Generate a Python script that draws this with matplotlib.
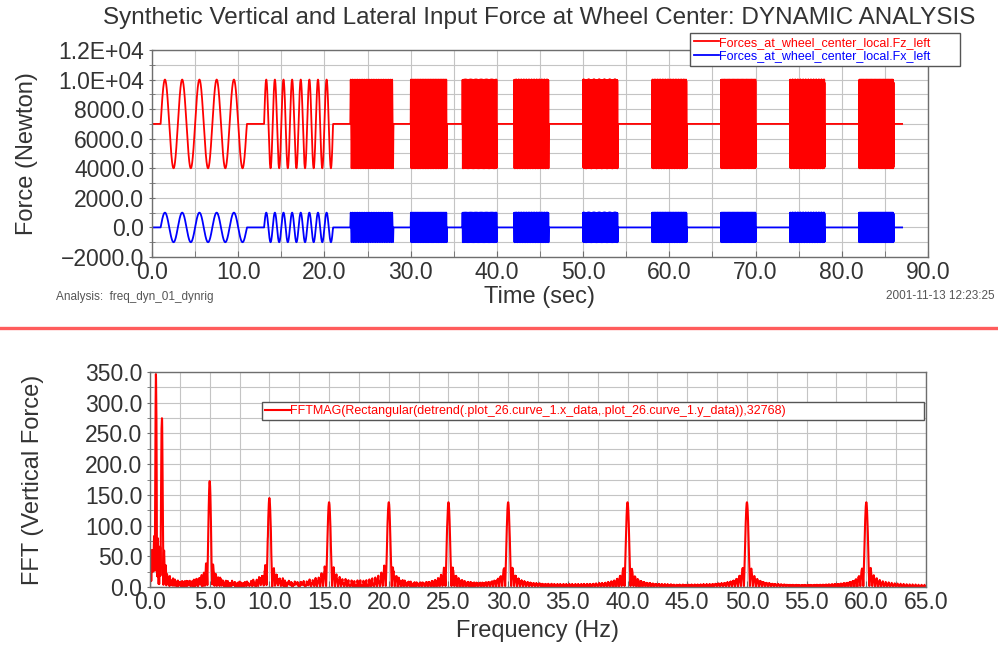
import numpy as np
import matplotlib
matplotlib.use("Agg")
import matplotlib.pyplot as plt
from matplotlib.lines import Line2D
from matplotlib.ticker import MultipleLocator, FixedLocator

# ---------------- data ----------------
# excitation segments (start, end in s; frequency in Hz)
seg_start = [1.0, 13.0, 23.0, 30.0, 36.0, 42.0, 50.0, 58.0, 66.0, 74.0, 82.0]
seg_end   = [11.0, 21.0, 28.0, 34.2, 40.0, 46.0, 54.0, 62.0, 70.0, 78.0, 86.0]
seg_freq  = [0.5, 1.0, 5.0, 10.0, 15.0, 20.0, 25.0, 30.0, 40.0, 50.0, 60.0]
t_total = 87.0
n_points = 32768
fz_mean, fz_amp = 7000.0, 3000.0   # Forces_at_wheel_center_local.Fz_left
fx_mean, fx_amp = 0.0, 1000.0      # Forces_at_wheel_center_local.Fx_left

top_yticks = [-2000, 0, 2000, 4000, 6000, 8000, 10000, 12000]
top_ylabels = ["\u22122000.0", "0.0", "2000.0", "4000.0", "6000.0", "8000.0", "1.0E+04", "1.2E+04"]
top_xticks = [0, 10, 20, 30, 40, 50, 60, 70, 80, 90]
bot_xticks = [0, 5, 10, 15, 20, 25, 30, 35, 40, 45, 50, 55, 60, 65]
bot_yticks = [0, 50, 100, 150, 200, 250, 300, 350]

title = "Synthetic Vertical and Lateral Input Force at Wheel Center: DYNAMIC ANALYSIS"
fz_label = "Forces_at_wheel_center_local.Fz_left"
fx_label = "Forces_at_wheel_center_local.Fx_left"
fft_label = "FFTMAG(Rectangular(detrend(.plot_26.curve_1.x_data,.plot_26.curve_1.y_data)),32768)"

# ---------------- signals ----------------
t = np.arange(n_points) * (t_total / n_points)
unit = np.zeros_like(t)
for s, e, f in zip(seg_start, seg_end, seg_freq):
    m = (t >= s) & (t <= e)
    unit[m] = np.sin(2 * np.pi * f * (t[m] - s))
fz = fz_mean + fz_amp * unit
fx = fx_mean + fx_amp * unit

# FFT magnitude of detrended vertical force
coef = np.polyfit(t, fz, 1)
det = fz - np.polyval(coef, t)
spec = 2.0 * np.abs(np.fft.rfft(det)) / n_points
freq = np.fft.rfftfreq(n_points, d=t_total / n_points)
keep = freq <= 65.0

# ---------------- figure ----------------
plt.rcParams['font.family'] = ['Liberation Sans', 'DejaVu Sans']
W, H = 998, 645
fig = plt.figure(figsize=(W / 100, H / 100), dpi=100)
fig.patch.set_facecolor('white')

def fx_(px):
    return px / W

def fy_(py):
    return 1 - py / H

txt_col = '#333333'
grid_col = '#c4c4c4'
spine_col = '#6e6e6e'
tick_fs = 16.5
lab_fs = 17

def style_axes(ax):
    for sp in ax.spines.values():
        sp.set_color(spine_col)
        sp.set_linewidth(1.0)
    ax.grid(True, which='both', color=grid_col, linewidth=0.8)
    ax.set_axisbelow(True)
    ax.tick_params(axis='x', which='both', direction='in', length=4, color=spine_col,
                   labelsize=tick_fs, labelcolor=txt_col, pad=3)
    ax.tick_params(axis='y', which='both', direction='inout', length=5, color=spine_col,
                   labelsize=tick_fs, labelcolor=txt_col, pad=3)

# top axes
ax1 = fig.add_axes([fx_(152), fy_(257), fx_(776), 207 / H])
ax1.plot(t, fz, color='#ff0000', linewidth=1.3, label=fz_label)
ax1.plot(t, fx, color='#0000ff', linewidth=1.3, label=fx_label)
ax1.set_xlim(0, 90)
ax1.set_ylim(-2000, 12000)
ax1.xaxis.set_major_locator(FixedLocator(top_xticks))
ax1.set_xticklabels([f"{v:.1f}" for v in top_xticks])
ax1.xaxis.set_minor_locator(MultipleLocator(5))
ax1.yaxis.set_major_locator(FixedLocator(top_yticks))
ax1.set_yticklabels(top_ylabels)
ax1.yaxis.set_minor_locator(MultipleLocator(1000))
style_axes(ax1)
ax1.set_xlabel("Time (sec)", fontsize=lab_fs, color=txt_col, va='center')
ax1.xaxis.set_label_coords(0.5, -(297 - 257) / 207)
ax1.set_ylabel("Force (Newton)", fontsize=lab_fs, color=txt_col, va='center')
ax1.yaxis.set_label_coords((27 - 152) / 776, 0.5)

leg1 = ax1.legend(loc='upper left', bbox_to_anchor=(fx_(690), fy_(65), fx_(270), 32 / H),
                  bbox_transform=fig.transFigure, mode='expand', fontsize=9,
                  handlelength=2.0, handletextpad=0.0, borderpad=0.3, labelspacing=0.1,
                  borderaxespad=0.0, fancybox=False, framealpha=1.0,
                  edgecolor='#555555', labelcolor='linecolor')
leg1.get_frame().set_linewidth(1.0)

fig.text(fx_(539), fy_(18), title, ha='center', va='center',
         fontsize=17.5, color=txt_col)
fig.text(fx_(56), fy_(297), "Analysis:  freq_dyn_01_dynrig", ha='left', va='center',
         fontsize=8.5, color='#555555')
fig.text(fx_(995), fy_(296), "2001-11-13 12:23:25", ha='right', va='center',
         fontsize=8.5, color='#555555')

# separator
fig.add_artist(Line2D([0, 1], [fy_(327.5), fy_(327.5)], transform=fig.transFigure,
                      color='#ff5c5c', linewidth=2.4))

# bottom axes
ax2 = fig.add_axes([fx_(150), fy_(587), fx_(776), 215 / H])
ax2.plot(freq[keep], spec[keep], color='#ff0000', linewidth=1.5, label=fft_label)
ax2.set_xlim(0, 65)
ax2.set_ylim(0, 350)
ax2.xaxis.set_major_locator(FixedLocator(bot_xticks))
ax2.set_xticklabels([f"{v:.1f}" for v in bot_xticks])
ax2.xaxis.set_minor_locator(MultipleLocator(2.5))
ax2.yaxis.set_major_locator(FixedLocator(bot_yticks))
ax2.set_yticklabels([f"{v:.1f}" for v in bot_yticks])
ax2.yaxis.set_minor_locator(MultipleLocator(25))
style_axes(ax2)
ax2.set_xlabel("Frequency (Hz)", fontsize=lab_fs, color=txt_col, va='center')
ax2.xaxis.set_label_coords(0.5, -(631 - 587) / 215)
ax2.set_ylabel("FFT (Vertical Force)", fontsize=lab_fs, color=txt_col, va='center')
ax2.yaxis.set_label_coords((33 - 150) / 776, 0.5)

leg2 = ax2.legend(loc='upper left', bbox_to_anchor=(fx_(262), fy_(420), fx_(662), 18 / H),
                  bbox_transform=fig.transFigure, mode='expand', fontsize=9,
                  handlelength=2.0, handletextpad=0.0, borderpad=0.25,
                  borderaxespad=0.0, fancybox=False, framealpha=1.0,
                  edgecolor='#555555', labelcolor='linecolor')
leg2.get_frame().set_linewidth(1.0)

fig.savefig("out.png", dpi=100, facecolor='white')
